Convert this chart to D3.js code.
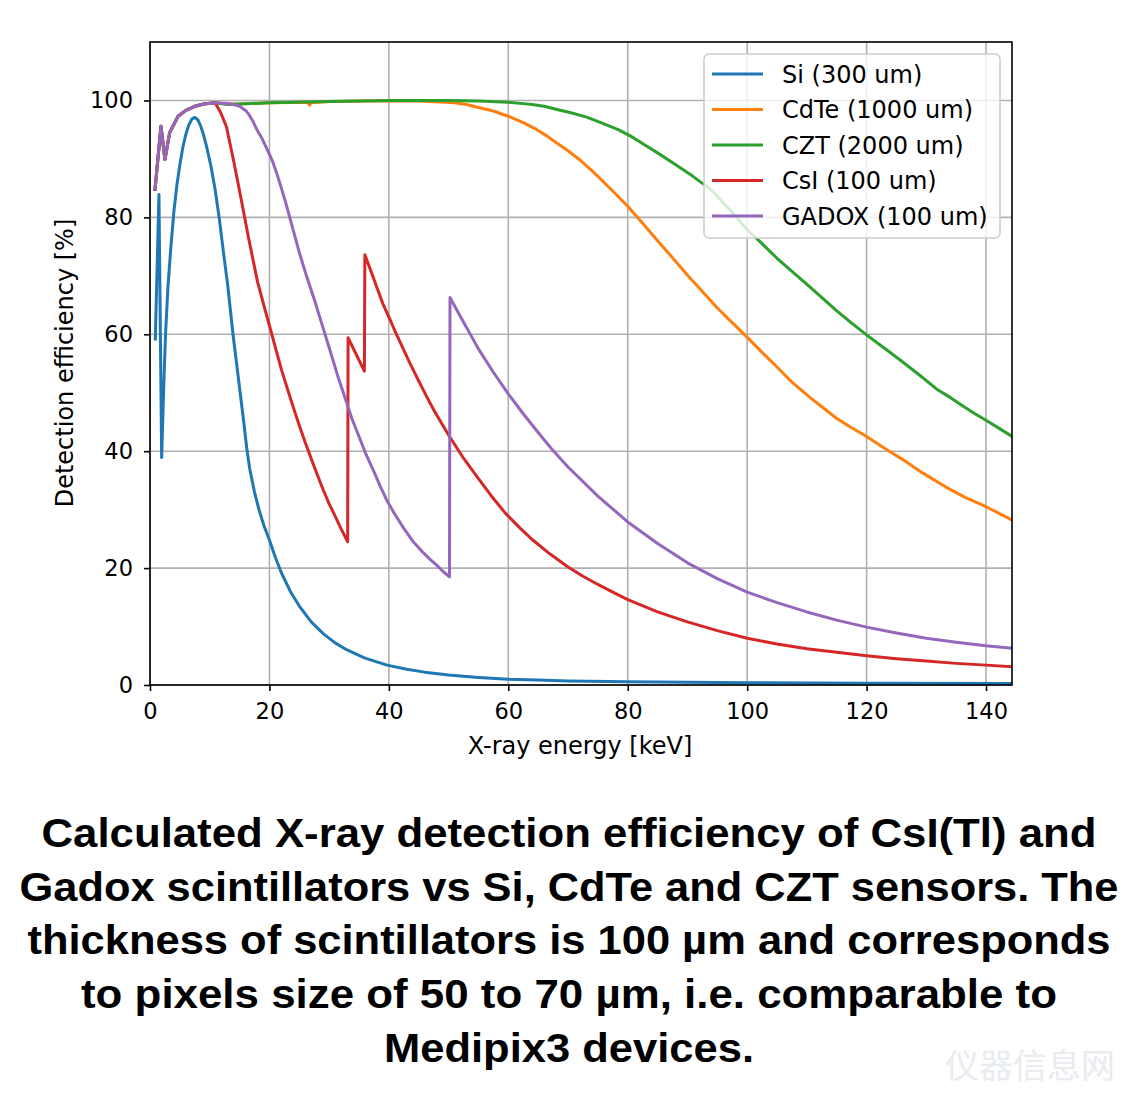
<!DOCTYPE html>
<html>
<head>
<meta charset="utf-8">
<script src="https://cdn.jsdelivr.net/npm/d3@7"></script>
<style>
  html, body { margin: 0; padding: 0; background: #fff; }
  svg { display: block; }
</style>
</head>
<body>
<svg id="chart" width="1138" height="1111"></svg>
<script>
// ---------------- DATA ----------------
const seriesNames = ["Si (300 um)", "CdTe (1000 um)", "CZT (2000 um)", "CsI (100 um)", "GADOX (100 um)"];
const seriesColors = ["#1f77b4", "#ff7f0e", "#2ca02c", "#d62728", "#9467bd"];

const siEnergy = [0.89, 1.5, 1.95, 2.3, 2.6, 3.0, 3.5, 4.0, 4.5, 5.0, 5.5, 6.0, 6.5, 7.0, 7.5, 8.0, 8.5, 9.0, 9.5, 10.2, 10.9, 11.6, 12.3, 13.0, 13.9, 14.5, 15.1, 15.7, 16.2, 16.7, 17.5, 18.3, 19.1, 20, 21, 22, 23.5, 25, 27, 29, 31, 33, 36, 39.7, 43, 46, 50, 55, 60, 65, 70, 80, 90, 100, 120, 144.4];
const siValue  = [59.2, 83.9, 38.9, 51, 60, 68, 75, 81, 85.5, 89, 92, 94.2, 95.8, 96.8, 97.1, 96.7, 95.6, 94, 92, 88.8, 84.8, 79.8, 74, 68.5, 60, 55, 50, 45, 40.5, 37, 33, 29.8, 27.2, 24.8, 21.8, 19.2, 16, 13.5, 10.8, 8.8, 7.2, 6.0, 4.6, 3.4, 2.7, 2.2, 1.7, 1.3, 1.0, 0.85, 0.7, 0.55, 0.45, 0.4, 0.3, 0.25];

const cdteEnergy = [0.84, 1.84, 2.5, 3.3, 4.7, 6.0, 7.5, 9.0, 10.9, 13, 15, 20, 26.5, 26.7, 27, 30, 40, 45, 51, 53, 55, 57.5, 60, 62.5, 64.8, 66.5, 68, 70, 71.9, 74, 76, 78, 80, 82.5, 85, 87.5, 90.2, 92.5, 95, 97.5, 99.9, 102.5, 105, 107.5, 110.4, 112.5, 115, 117.5, 120, 123, 126, 129.5, 133.2, 136.5, 140, 144.4];
const cdteValue  = [84.8, 95.6, 89.9, 94.5, 97.3, 98.3, 99.0, 99.4, 99.6, 99.4, 99.4, 99.6, 99.7, 99.2, 99.6, 99.8, 99.95, 99.9, 99.6, 99.3, 98.8, 98.2, 97.3, 96.2, 95, 93.9, 92.8, 91.4, 89.9, 88, 86, 84, 81.9, 79, 76, 73.1, 69.9, 67.3, 64.5, 62, 59.6, 56.9, 54.4, 51.8, 49.3, 47.6, 45.6, 44, 42.5, 40.5, 38.6, 36.2, 33.9, 32.1, 30.5, 28.2];

const cztEnergy = [0.84, 1.84, 2.5, 3.3, 4.7, 6.0, 7.5, 9.0, 10.9, 13, 20, 30, 40, 50, 55, 60, 62, 64, 66, 68, 70.5, 73, 75.5, 78.4, 80.5, 83, 85.2, 87.6, 90.8, 94, 97, 100, 102.5, 105, 107.7, 110.4, 112.7, 115, 117.5, 120, 123, 126, 129, 131.9, 134, 136, 138, 140, 142.2, 144.4];
const cztValue  = [84.8, 95.6, 89.9, 94.5, 97.3, 98.3, 99.0, 99.4, 99.6, 99.3, 99.6, 99.8, 100, 100, 99.9, 99.7, 99.5, 99.3, 99, 98.5, 97.9, 97.2, 96.2, 95, 93.9, 92.3, 90.9, 89.3, 87.1, 84.7, 81.4, 77.9, 75.5, 73, 70.6, 68.2, 66.1, 64, 61.9, 59.9, 57.6, 55.3, 52.9, 50.5, 49.2, 47.8, 46.5, 45.3, 43.9, 42.5];

const csiEnergy = [0.84, 1.84, 2.5, 3.3, 4.7, 6.0, 7.5, 9.0, 10.9, 11.8, 12.8, 13.9, 15.1, 16.5, 18, 19, 20, 21, 22, 23, 24, 25, 26, 27, 28, 29, 30, 31, 32, 33.1, 33.17, 35.9, 35.98, 37, 38, 39, 40.2, 41, 42, 43.5, 45, 46.2, 47.5, 48.8, 50.1, 52.5, 55, 57.2, 59.5, 61.8, 64.1, 67, 70, 72.5, 75, 77.5, 80, 85, 90, 95, 100, 105, 110, 115, 120, 125, 130, 135, 140, 144.4];
const csiValue  = [84.8, 95.6, 89.9, 94.5, 97.3, 98.3, 99.0, 99.4, 99.6, 98, 95.5, 90.2, 84, 76.5, 69, 65.2, 61.5, 57.7, 54, 50.7, 47.5, 44.4, 41.5, 38.7, 36, 33.4, 31, 28.9, 26.7, 24.5, 59.4, 53.7, 73.6, 70.8, 68, 65.2, 62.5, 60.6, 58.4, 55.1, 52, 49.6, 47.1, 44.8, 42.6, 38.8, 35.3, 32.3, 29.4, 27, 24.8, 22.4, 20.2, 18.6, 17.2, 15.9, 14.6, 12.5, 10.8, 9.3, 8, 7, 6.2, 5.6, 5, 4.5, 4.1, 3.7, 3.4, 3.1];

const gadoxEnergy = [0.84, 1.84, 2.5, 3.3, 4.7, 6.0, 7.5, 9.0, 10.9, 13, 14, 15, 16, 16.5, 17.2, 17.9, 18.6, 19.3, 20, 20.6, 21.3, 22, 22.7, 23.4, 24.2, 25, 26.2, 27.5, 28.8, 30.1, 31.4, 32.7, 33.8, 35, 36.2, 37.5, 38.6, 39.7, 41, 42.5, 44, 45.8, 47, 48, 49, 50.15, 50.24, 52, 55, 57.5, 60, 62.5, 65, 67.5, 70, 75, 80, 85, 90, 95, 100, 105, 110, 115, 120, 125, 130, 135, 140, 144.4];
const gadoxValue  = [84.8, 95.6, 89.9, 94.5, 97.3, 98.3, 99.0, 99.4, 99.6, 99.5, 99.3, 99, 98.3, 97.7, 96.5, 95, 93.8, 92.3, 90.8, 89.4, 87.3, 85, 82.6, 80, 77, 74, 70, 66, 61.7, 57.4, 53, 49, 45.6, 42.5, 39.4, 36.5, 33.9, 31.5, 29.2, 26.8, 24.6, 22.6, 21.4, 20.5, 19.5, 18.5, 66.3, 63, 57.5, 53.5, 49.8, 46.4, 43.2, 40.1, 37.3, 32.3, 27.9, 24.2, 20.9, 18.2, 15.9, 14.1, 12.5, 11.1, 9.9, 8.9, 8, 7.3, 6.7, 6.3];

const xTicks = [0, 20, 40, 60, 80, 100, 120, 140];
const yTicks = [0, 20, 40, 60, 80, 100];
const xLabel = "X-ray energy [keV]";
const yLabel = "Detection efficiency [%]";
const captionLines = [
  "Calculated X-ray detection efficiency of CsI(Tl) and",
  "Gadox scintillators vs Si, CdTe and CZT sensors. The",
  "thickness of scintillators is 100 µm and corresponds",
  "to pixels size of 50 to 70 µm, i.e. comparable to",
  "Medipix3 devices."
];
const captionWidths = [1055, 1099, 1083, 976, 370];

// ---------------- CHART ----------------
const svg = d3.select("#chart");
svg.append("rect").attr("width", 1138).attr("height", 1111).attr("fill", "#fff");

const plot = { left: 150, right: 1012, top: 42, bottom: 685 };
const x = d3.scaleLinear().domain([0, 144.35]).range([plot.left, plot.right]);
const y = d3.scaleLinear().domain([0, 110]).range([plot.bottom, plot.top]);

const font = "'DejaVu Sans', sans-serif";

// grid
const grid = svg.append("g");
grid.selectAll("line.gx").data(xTicks).join("line")
  .attr("x1", d => x(d)).attr("x2", d => x(d))
  .attr("y1", plot.top).attr("y2", plot.bottom)
  .attr("stroke", "#b0b0b0").attr("stroke-width", 1.6);
grid.selectAll("line.gy").data(yTicks).join("line")
  .attr("x1", plot.left).attr("x2", plot.right)
  .attr("y1", d => y(d)).attr("y2", d => y(d))
  .attr("stroke", "#b0b0b0").attr("stroke-width", 1.6);

// clip
svg.append("clipPath").attr("id", "clip").append("rect")
  .attr("x", plot.left).attr("y", plot.top)
  .attr("width", plot.right - plot.left).attr("height", plot.bottom - plot.top);

const series = [
  { e: siEnergy, v: siValue },
  { e: cdteEnergy, v: cdteValue },
  { e: cztEnergy, v: cztValue },
  { e: csiEnergy, v: csiValue },
  { e: gadoxEnergy, v: gadoxValue }
];
const line = d3.line().x(d => x(d[0])).y(d => y(d[1]));
const lines = svg.append("g").attr("clip-path", "url(#clip)");
series.forEach((s, i) => {
  const pts = s.e.map((e, j) => [e, s.v[j]]);
  lines.append("path").datum(pts)
    .attr("d", line)
    .attr("fill", "none")
    .attr("stroke", seriesColors[i])
    .attr("stroke-width", 3)
    .attr("stroke-linejoin", "round")
    .attr("stroke-linecap", "square");
});

// axes
const xAxis = svg.append("g").attr("transform", `translate(0,${plot.bottom})`)
  .call(d3.axisBottom(x).tickValues(xTicks).tickSize(6).tickPadding(12));
const yAxis = svg.append("g").attr("transform", `translate(${plot.left},0)`)
  .call(d3.axisLeft(y).tickValues(yTicks).tickSize(6).tickPadding(11));
[xAxis, yAxis].forEach(a => {
  a.select(".domain").remove();
  a.selectAll(".tick line").attr("stroke", "#000").attr("stroke-width", 1.6);
  a.selectAll(".tick text").attr("font-family", font).attr("font-size", 22.5).attr("fill", "#000");
});
// frame
svg.append("rect")
  .attr("x", plot.left).attr("y", plot.top)
  .attr("width", plot.right - plot.left).attr("height", plot.bottom - plot.top)
  .attr("fill", "none").attr("stroke", "#000").attr("stroke-width", 1.6);

svg.append("text").text(xLabel)
  .attr("x", 580).attr("y", 754)
  .attr("text-anchor", "middle").attr("font-family", font).attr("font-size", 24);
svg.append("text").text(yLabel)
  .attr("transform", `translate(73,${363}) rotate(-90)`)
  .attr("text-anchor", "middle").attr("font-family", font).attr("font-size", 24);

// legend
const lg = svg.append("g");
lg.append("rect").attr("x", 704).attr("y", 54).attr("width", 296).attr("height", 184)
  .attr("rx", 5).attr("fill", "#fff").attr("fill-opacity", 0.8)
  .attr("stroke", "#cccccc").attr("stroke-width", 1.5);
seriesNames.forEach((n, i) => {
  const yy = 74 + i * 35.5;
  lg.append("line").attr("x1", 712).attr("x2", 763).attr("y1", yy).attr("y2", yy)
    .attr("stroke", seriesColors[i]).attr("stroke-width", 3);
  lg.append("text").text(n).attr("x", 782).attr("y", yy + 8.5)
    .attr("font-family", font).attr("font-size", 24);
});

// caption
captionLines.forEach((t, i) => {
  svg.append("text").text(t)
    .attr("x", 569).attr("y", 847 + i * 53.7)
    .attr("text-anchor", "middle")
    .attr("font-family", "'Liberation Sans', Arial, sans-serif")
    .attr("font-weight", "bold").attr("font-size", 40)
    .attr("textLength", captionWidths[i]).attr("lengthAdjust", "spacingAndGlyphs")
    .attr("fill", "#000");
});

// watermark
svg.append("text").text("仪器信息网")
  .attr("x", 1115).attr("y", 1078).attr("text-anchor", "end")
  .attr("font-family", "'Noto Sans CJK SC', sans-serif").attr("font-size", 34)
  .attr("fill", "#e8ebf0");
</script>
</body>
</html>
